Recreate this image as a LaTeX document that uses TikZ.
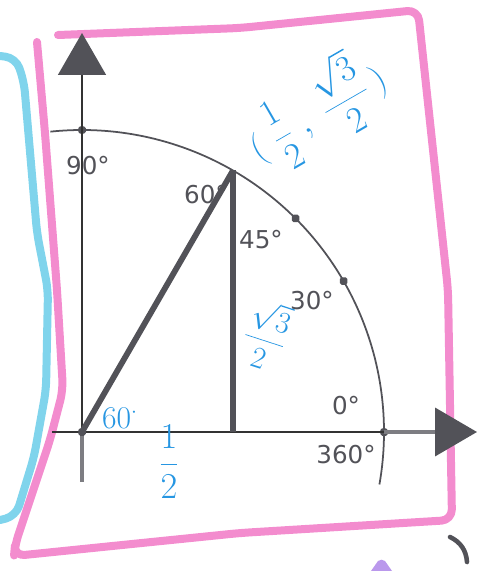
\documentclass[tikz,border=0pt]{standalone}
\usepackage{fontspec}
\usetikzlibrary{arrows.meta}
\newfontfamily\labelfont{DejaVu Sans}
\definecolor{penpink}{RGB}{243,140,206}
\definecolor{pencyan}{RGB}{128,212,236}
\definecolor{penblue}{RGB}{38,150,226}
\definecolor{penpurple}{RGB}{186,152,236}
\definecolor{printgray}{RGB}{82,82,88}

\begin{document}
\begin{tikzpicture}[x=0.02cm, y=0.02cm,
    marker/.style={line width=0.16cm, line cap=round, line join=round, rounded corners=6pt},
    axis/.style={line width=0.9pt, black!80},
    axis ext/.style={line width=2.2pt, printgray!75},
    side/.style={line width=3.3pt, printgray},
    circ/.style={line width=1pt, printgray},
    dot/.style={fill=printgray, inner sep=0pt, minimum size=0.15cm, rounded corners=1pt},
    deg/.style={font=\labelfont\fontsize{14}{16}\selectfont, text=printgray, inner sep=0pt},
    hand/.style={text=penblue, inner sep=0pt},
    >={Triangle[length=0.84cm, width=0.96cm, color=printgray]}]

  \useasboundingbox (0,0) rectangle (480,-571);

  % ===== Highlighter frames =====
  \draw[marker, pencyan] (0,-56) -- (16,-58) -- (24,-82) -- (37,-233) -- (48,-290)
    -- (46,-390) -- (34,-457) -- (16,-516) -- (0,-520);
  \draw[marker, penpink] (37,-42) -- (45,-133) -- (57,-290) -- (63,-390) -- (50,-440)
    -- (15,-545) -- (14,-556) -- (240,-533) -- (452,-520) -- (448,-290) -- (418,-10)
    -- (240,-28) -- (58,-35);

  % ===== Axes =====
  \coordinate (O) at (82,-432);
  \coordinate (xstart) at (52,-432);
  \coordinate (xtip) at (477,-432);
  \coordinate (ytip) at (82,-33);
  \coordinate (ystub) at (82,-482);

  \begin{scope}[shift={(O)}]
    % Unit circle arc, a little past both axes
    \draw[circ] (96:302) arc[start angle=96, end angle=-10, radius=302];

    % Points on the circle
    \coordinate (P) at (60:302);
    \coordinate (F) at (151,0);
    \coordinate (E) at (0:302);
    \coordinate (N) at (90:302);
    \node[dot] (d90) at (N) {};
    \node[dot] (d45) at (45:302) {};
    \node[dot] (d30) at (30:302) {};
    \node[dot] (d0) at (E) {};
  \end{scope}

  \draw[axis] (xstart) -- (E);
  \draw[axis ext, ->] (E) -- (xtip);
  \draw[axis, ->] (O) -- (ytip);
  \draw[axis ext] (O) -- (ystub);
  \node[dot] (d00) at (O) {};

  % ===== Triangle for 60 degrees =====
  \draw[side] (O) -- (P);
  \draw[side] (P) -- (F);

  % ===== Printed angle labels =====
  \node[deg] (l90) at (88,-166) {90°};
  \node[deg] (l60) at (206,-195) {60°};
  \node[deg] (l45) at (261,-240) {45°};
  \node[deg] (l30) at (312,-301) {30°};
  \node[deg] (l0) at (346,-406) {0°};
  \node[deg] (l360) at (346,-455) {360°};

  % ===== Handwritten notes =====
  \node[hand, rotate=30, font=\fontsize{21}{24}\selectfont] (coords) at (316,-110)
    {$\displaystyle\biggl(\;\frac{1}{2}\;,\;\frac{\sqrt{3}}{2}\,\biggr)$};
  \node[hand, font=\fontsize{18}{20}\selectfont] (ang) at (120,-418) {60$^{\cdot}$};
  \node[hand, font=\fontsize{21}{24}\selectfont] (half) at (169,-462) {$\displaystyle\frac{1}{2}$};
  \node[hand, rotate=-18, font=\fontsize{17}{20}\selectfont] (height) at (266,-335)
    {$\displaystyle\frac{\sqrt{3}}{2}$};

  % ===== Stray marks at the bottom edge =====
  \draw[line width=2.6pt, printgray, line cap=round] (450,-537) to[bend left=30] (467,-562);
  \fill[penpurple] (371,-571) -- (378,-561) to[bend left=40] (385,-561) -- (392,-571) -- cycle;

\end{tikzpicture}
\end{document}
